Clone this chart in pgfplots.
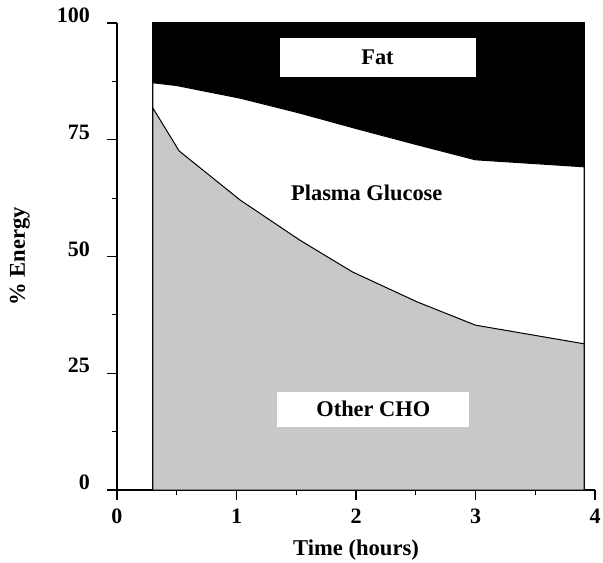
\documentclass[border=0pt]{standalone}
\usepackage{fontspec}
\setmainfont{Liberation Serif}
\usepackage{pgfplots}
\pgfplotsset{compat=1.18}
\usetikzlibrary{calc}
\definecolor{cho}{RGB}{200,200,200}

\begin{document}
\begin{tikzpicture}
\begin{axis}[
    scale only axis,
    width=239pt, height=233.5pt,
    xmin=0, xmax=4, ymin=0, ymax=100,
    axis x line=bottom, axis y line=left,
    axis line style={-, line width=0.6pt},
    x axis line style={shorten <=-5pt},
    xtick={0,1,2,3,4}, ytick={0,25,50,75,100},
    minor xtick={0.5,1.5,2.5,3.5},
    minor ytick={12.5,37.5,62.5,87.5},
    tick align=outside,
    major tick length=5pt, minor tick length=2.5pt,
    tick style={black, line width=0.6pt},
    ticklabel style={font=\bfseries\fontsize{11}{13}\selectfont},
    /pgf/number format/assume math mode=true,
    yticklabel style={yshift=3.75pt, xshift=-5pt},
    xticklabel style={yshift=-1pt},
    xlabel={Time (hours)}, ylabel={\% Energy},
    label style={font=\bfseries\fontsize{11.3}{13}\selectfont},
    xlabel style={at={(axis description cs:0.5,-0.128)}, anchor=center},
    ylabel style={at={(axis description cs:-0.203,0.5)}, anchor=center},
    clip=false,
]

% fat (black) fills the whole band first
\addplot[fill=black, draw=black, line width=0.5pt] coordinates {
    (0.3,100) (3.91,100)
} \closedcycle;

% plasma glucose upper boundary
\addplot[fill=white, draw=black, line width=0.5pt] coordinates {
    (0.3,87.2) (0.5,86.6) (1.03,83.9) (1.53,80.7) (2.0,77.4)
    (2.5,74.0) (3.0,70.7) (3.91,69.2)
} \closedcycle;

% other CHO
\addplot[fill=cho, draw=black, line width=0.5pt] coordinates {
    (0.3,81.8) (0.52,72.6) (1.03,62.1) (1.53,53.5) (1.97,46.7)
    (2.51,40.3) (3.0,35.3) (3.91,31.3)
} \closedcycle;

\node[fill=white, minimum width=98pt, minimum height=19.5pt, inner sep=0pt,
      font=\bfseries\fontsize{11.2}{13}\selectfont] at (axis cs:2.18,92.6) {Fat};
\node[font=\bfseries\fontsize{11.2}{13}\selectfont] at (axis cs:2.09,63.6) {Plasma Glucose};
\node[fill=white, minimum width=96pt, minimum height=17.5pt, inner sep=0pt,
      font=\bfseries\fontsize{11.2}{13}\selectfont] at (axis cs:2.145,17.3) {Other CHO};

\coordinate (O) at (axis cs:0,0);
\end{axis}
\pgfresetboundingbox
\path[use as bounding box] ($(O)+(-58.5pt,-36pt)$) rectangle ($(O)+(243pt,245pt)$);
\end{tikzpicture}
\end{document}
